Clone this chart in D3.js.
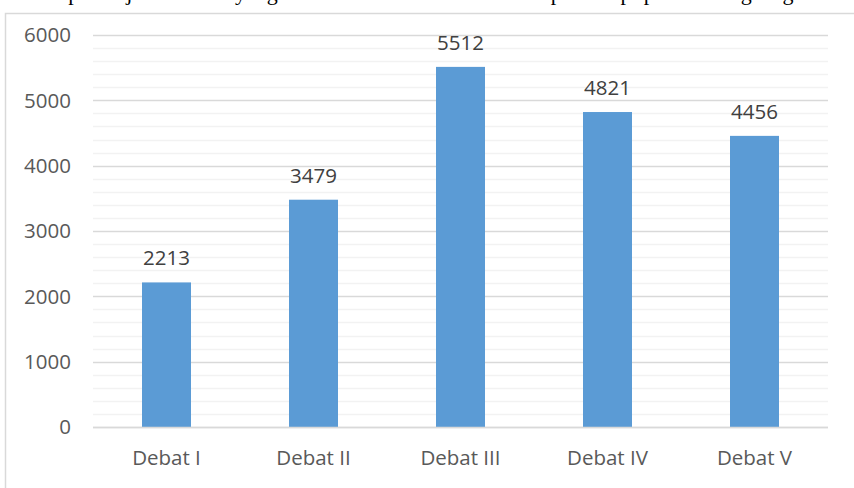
<!DOCTYPE html>
<html>
<head>
<meta charset="utf-8">
<script src="https://cdn.jsdelivr.net/npm/d3@7"></script>
<style>
  body { margin: 0; background: #fff; }
  svg { display: block; }
</style>
</head>
<body>
<svg id="chart" width="854" height="488"></svg>
<script>
const categories = ['Debat I', 'Debat II', 'Debat III', 'Debat IV', 'Debat V'];
const values = [2213, 3479, 5512, 4821, 4456];
const majorTicks = [0, 1000, 2000, 3000, 4000, 5000, 6000];
const captionText = 'merupakan jumlah data yang diambil dari media sosial setiap debat pilpres berlangsung';

const width = 854;
const height = 488;
const margin = {top: 35, right: 26, bottom: 61, left: 93};

const svg = d3.select('#chart');

// caption line of the page above, cut off by the top edge
svg.append('text')
  .attr('x', 23)
  .attr('y', -0.5)
  .style('font-family', '"Liberation Serif", serif')
  .style('font-size', '22px')
  .style('fill', '#000')
  .text(captionText);

// chart frame
svg.append('rect')
  .attr('x', 5.5)
  .attr('y', 13.5)
  .attr('width', 860)
  .attr('height', 500)
  .style('fill', '#fff')
  .style('stroke', '#d9d9d9')
  .style('stroke-width', 1.5);

const x = d3.scaleBand()
  .domain(categories)
  .range([margin.left, width - margin.right])
  .paddingInner(2 / 3)
  .paddingOuter(1 / 3);

const y = d3.scaleLinear()
  .domain([0, 6000])
  .range([height - margin.bottom, margin.top]);

const g = svg.append('g');

// minor gridlines
g.selectAll('line.minor')
  .data(d3.range(200, 6000, 200).filter(v => v % 1000 !== 0))
  .enter()
  .append('line')
  .attr('x1', margin.left)
  .attr('x2', width - margin.right)
  .attr('y1', d => Math.round(y(d)) + 0.5)
  .attr('y2', d => Math.round(y(d)) + 0.5)
  .style('stroke', '#f2f2f2')
  .style('stroke-width', 1.5);

// major gridlines
g.selectAll('line.major')
  .data(majorTicks)
  .enter()
  .append('line')
  .attr('x1', margin.left)
  .attr('x2', width - margin.right)
  .attr('y1', d => Math.round(y(d)) + 0.5)
  .attr('y2', d => Math.round(y(d)) + 0.5)
  .style('stroke', '#d9d9d9')
  .style('stroke-width', 1.5);

// bars
g.selectAll('rect.bar')
  .data(values)
  .enter()
  .append('rect')
  .attr('x', (d, i) => x(categories[i]))
  .attr('y', d => y(d))
  .attr('width', x.bandwidth())
  .attr('height', d => y(0) - y(d))
  .style('fill', '#5b9bd5');

// baseline again, over the bars
g.append('line')
  .attr('x1', margin.left)
  .attr('x2', width - margin.right)
  .attr('y1', Math.round(y(0)) + 0.5)
  .attr('y2', Math.round(y(0)) + 0.5)
  .style('stroke', '#d9d9d9')
  .style('stroke-width', 1.5);

const font = '"Open Sans", "Noto Sans", sans-serif';
const fontSize = '20.5px';

// value labels
g.selectAll('text.val')
  .data(values)
  .enter()
  .append('text')
  .attr('x', (d, i) => x(categories[i]) + x.bandwidth() / 2)
  .attr('y', d => y(d) - 17)
  .attr('text-anchor', 'middle')
  .style('font-family', font)
  .style('font-size', fontSize)
  .style('fill', '#404040')
  .text(d => d);

// y tick labels
g.selectAll('text.ytick')
  .data(majorTicks)
  .enter()
  .append('text')
  .attr('x', 71)
  .attr('y', d => y(d))
  .attr('dy', '0.36em')
  .attr('text-anchor', 'end')
  .style('font-family', font)
  .style('font-size', fontSize)
  .style('fill', '#595959')
  .text(d => d);

// category labels
g.selectAll('text.xtick')
  .data(categories)
  .enter()
  .append('text')
  .attr('x', d => x(d) + x.bandwidth() / 2)
  .attr('y', 465)
  .attr('text-anchor', 'middle')
  .style('font-family', font)
  .style('font-size', fontSize)
  .style('fill', '#595959')
  .text(d => d);
</script>
</body>
</html>
